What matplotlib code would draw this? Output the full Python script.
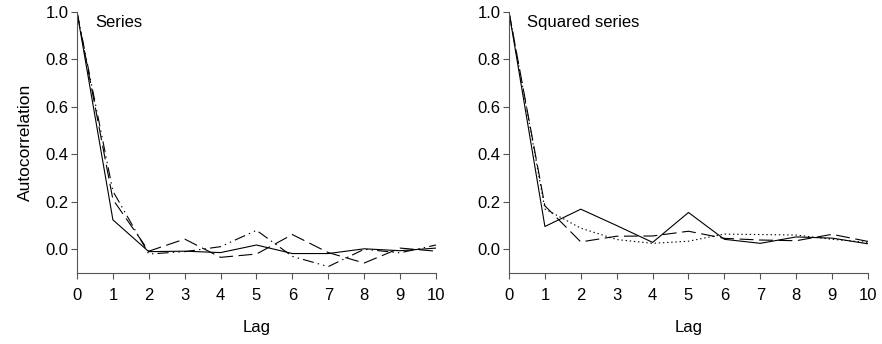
import matplotlib
matplotlib.use('Agg')
import matplotlib.pyplot as plt

plt.rcParams['font.family'] = ['Liberation Sans', 'DejaVu Sans']
plt.rcParams['font.size'] = 12
plt.rcParams['lines.scale_dashes'] = False

# Datos
lags = list(range(11))

serie_solida = [1.0, 0.124, -0.01, -0.008, -0.014, 0.018, -0.018, -0.018, 0.002, -0.006, 0.005]
serie_tracos = [1.0, 0.21, -0.008, 0.043, -0.034, -0.02, 0.062, -0.014, -0.058, 0.005, -0.008]
serie_traco_ponto = [1.0, 0.245, -0.02, -0.01, 0.011, 0.08, -0.03, -0.073, 0.0, -0.015, 0.018]

quad_solida = [1.0, 0.096, 0.169, 0.10, 0.029, 0.155, 0.042, 0.025, 0.052, 0.047, 0.023]
quad_tracos = [1.0, 0.183, 0.031, 0.055, 0.056, 0.076, 0.046, 0.039, 0.036, 0.063, 0.033]
quad_pontos = [1.0, 0.17, 0.089, 0.041, 0.025, 0.034, 0.064, 0.062, 0.06, 0.042, 0.029]

yticks = [0.0, 0.2, 0.4, 0.6, 0.8, 1.0]

fig = plt.figure(figsize=(8.82, 3.44), dpi=100)
ax1 = fig.add_axes([0.0873, 0.2064, 0.407, 0.7587])
ax2 = fig.add_axes([0.5771, 0.2064, 0.407, 0.7587])

lw = 0.8
ax1.plot(lags, serie_solida, color='black', lw=lw)
ax1.plot(lags, serie_tracos, color='black', lw=lw, dashes=(10, 4))
ax1.plot(lags, serie_traco_ponto, color='black', lw=lw, dashes=(8, 3, 1, 3, 1, 3))

ax2.plot(lags, quad_solida, color='black', lw=lw)
ax2.plot(lags, quad_tracos, color='black', lw=lw, dashes=(10, 4))
ax2.plot(lags, quad_pontos, color='black', lw=lw, dashes=(1, 2))

for ax, titulo in ((ax1, 'Series'), (ax2, 'Squared series')):
    ax.set_xlim(0, 10)
    ax.set_ylim(-0.1, 1.0)
    ax.set_xticks(lags)
    ax.set_yticks(yticks)
    ax.set_yticklabels([f'{v:.1f}' for v in yticks])
    ax.spines['top'].set_visible(False)
    ax.spines['right'].set_visible(False)
    for s in ('left', 'bottom'):
        ax.spines[s].set_color('#555555')
        ax.spines[s].set_linewidth(0.8)
    ax.tick_params(axis='both', direction='out', length=4, width=0.8, color='#555555', labelsize=12)
    ax.tick_params(axis='x', pad=7)
    ax.tick_params(axis='y', pad=2)
    ax.set_xlabel('Lag', labelpad=12)
    ax.text(0.05, 0.99, titulo, transform=ax.transAxes, ha='left', va='top', fontsize=12)

ax1.set_ylabel('Autocorrelation', labelpad=9, fontsize=12.5)

fig.savefig('out.png', dpi=100)
